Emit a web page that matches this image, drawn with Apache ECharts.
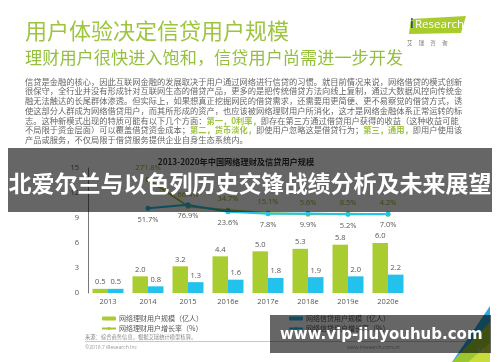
<!DOCTYPE html>
<html><head><meta charset="utf-8">
<script src="https://cdn.jsdelivr.net/npm/echarts@6/dist/echarts.min.js"></script>
<style>html,body{margin:0;padding:0;background:#fff}#c{width:500px;height:362px}</style>
</head><body><div id="c"></div>
<script>
const categories = ['2013','2014','2015','2016e','2017e','2018e','2019e','2020e'];
const wealthUsers = [0.5,2.0,3.2,4.4,5.0,5.3,5.8,6.0];
const loanUsers = [0.5,0.8,1.3,1.6,1.8,1.9,2.0,2.2];
const wealthGrowth = [null,271.8,66.4,34.7,15.1,5.6,8.5,4.2];
const loanGrowth = [null,51.7,76.9,23.6,7.8,9.9,5.2,7.0];
const yTicks = [0,3,6,9,12,15];
const seriesNames = ['网络理财用户规模（亿人）','网络信贷用户规模（亿人）','网络理财用户增长率（%）','网络信贷用户增长率（%）'];
const chartTitle = '2013-2020年中国网络理财及信贷用户规模';
const slideTitle = '用户体验决定信贷用户规模';
const slideSubtitle = '理财用户很快进入饱和，信贷用户尚需进一步开发';
const paragraph = [
  '信贷是金融的核心，因此互联网金融的发展取决于用户通过网络进行信贷的习惯。就目前情况来说，网络借贷的模式创新',
  '很保守，全行业并没有形成针对互联网生态的借贷产品，更多的是把传统借贷方法向线上复制，通过大数据风控向传统金',
  '融无法触达的长尾群体渗透。但实际上，如果想真正挖掘网民的借贷需求，还需要用更简便、更不易察觉的借贷方式，诱',
  '使这部分人群成为网络借贷用户，而其所形成的资产，也应该被网络理财用户所消化，这才是网络金融体系正常运转的标',
  '志。这种新模式出现的特质可能有以下几个方面：{g|第一，0利率，}即存在第三方通过借贷用户获得的收益（这种收益可能',
  '不局限于资金层面）可以覆盖借贷资金成本；{g|第二，货币淡化，}即使用户忽略这是借贷行为；{g|第三，通用，}即用户使用该',
  '产品或服务，不仅局限于借贷服务提供企业自身生态系统内。'
];
const overlayTitle = '北爱尔兰与以色列历史交锋战绩分析及未来展望';
const overlayUrl = 'www.vip-jiuyouhub.com';
const sourceText = '来源：综合商务信息，根据艾瑞统计模型核算。';
const copyrightText = '©2016.7 iResearch Inc';
const siteText = 'www.iresearch.com.cn';
const pageNo = '11';

const GREEN = '#a9cc30', CYAN = '#22c2ec';
const CJK = '"Noto Sans CJK SC", sans-serif';
const NUM = '"Open Sans", "Noto Sans CJK SC", sans-serif';

const chart = echarts.init(document.getElementById('c'), null, {renderer: 'canvas'});

const graphics = [];
graphics.push({type:'text', left:25, top:20, z:50, style:{text:slideTitle, font:'22px '+CJK, fill:'#9dc53e'}});
graphics.push({type:'text', left:25, top:49, z:50, style:{text:slideSubtitle, font:'17.2px '+CJK, fill:'#94c03e'}});
// logo
graphics.push({type:'polygon', z:50, shape:{points:[[411,19],[466,16],[461,33],[409,34]]}, style:{fill:'#a8cc2c'}});
graphics.push({type:'text', x:410, y:19, z:51, style:{text:'i', font:'bold 12px '+NUM, fill:'#1d4f91'}});
graphics.push({type:'text', x:415, y:19, z:51, style:{text:'Research', font:'11.5px '+NUM, fill:'#ffffff'}});
graphics.push({type:'text', x:407, y:40, z:51, style:{text:'艾     瑞     咨     询', font:'5.5px '+CJK, fill:'#777'}});
paragraph.forEach((ln,i)=>{
  graphics.push({type:'text', x:25, y:77.5+i*9.7, z:50, style:{text:ln, font:'8.25px '+CJK, fill:'#666', rich:{g:{fill:'#9dc53e', fontWeight:'bold', fontSize:8.25, fontFamily:CJK}}}});
});
graphics.push({type:'text', x:236, y:162, z:50, style:{text:chartTitle, font:'bold 8.2px '+CJK, fill:'#333', align:'center', verticalAlign:'middle'}});
graphics.push({type:'text', x:85, y:334.5, z:50, style:{text:sourceText, font:'5.3px '+CJK, fill:'#888'}});
graphics.push({type:'line', z:50, shape:{x1:85,y1:341.5,x2:470,y2:341.5}, style:{stroke:'#c8c8c8', lineWidth:1}});
graphics.push({type:'text', x:85, y:345, z:50, style:{text:copyrightText, font:'5px '+NUM, fill:'#999'}});
graphics.push({type:'text', x:347, y:345, z:50, style:{text:siteText, font:'5px '+NUM, fill:'#999'}});
// corner decoration
graphics.push({type:'polygon', z:50, shape:{points:[[490,306],[490,362],[452,362]]}, style:{fill:'#2aa9dd'}});
graphics.push({type:'polygon', z:51, shape:{points:[[490,322],[490,362],[452,362]]}, style:{fill:'#9cc52e'}});
graphics.push({type:'polygon', z:52, shape:{points:[[490,343],[490,362],[468,362]]}, style:{fill:'#c8dc3c'}});
graphics.push({type:'text', x:477, y:347, z:53, style:{text:pageNo, font:'6px '+NUM, fill:'#ddd'}});
// overlays
graphics.push({type:'rect', z:100, shape:{x:8,y:148,width:484,height:64}, style:{fill:'rgba(0,0,0,0.6)'}});
graphics.push({type:'text', x:250, y:183, z:101, style:{text:overlayTitle, font:'bold 23px '+CJK, fill:'#fff', align:'center', verticalAlign:'middle'}});
graphics.push({type:'rect', z:100, shape:{x:270,y:315,width:221,height:38}, style:{fill:'rgba(0,0,0,0.6)'}});
graphics.push({type:'text', x:280, y:335, z:101, style:{text:overlayUrl, font:'bold 15px "DejaVu Sans", sans-serif', fill:'#fff', verticalAlign:'middle'}});

const fmt1 = p => Number(p.value).toFixed(1);
const fmtPct = p => Number(p.value).toFixed(1) + '%';

chart.setOption({
  animation:false,
  backgroundColor:'#fff',
  grid:{left:88, right:92, top:168, bottom:69},
  legend:[
    {left:96, top:309.5, orient:'vertical', itemGap:2, itemWidth:14, itemHeight:4, data:[seriesNames[0], seriesNames[2]],
     textStyle:{fontSize:7, color:'#555', fontFamily:CJK, lineHeight:8, padding:[0,0,0,-2]}},
    {left:283, top:309.5, orient:'vertical', itemGap:2, itemWidth:14, itemHeight:4, data:[seriesNames[1], seriesNames[3]],
     textStyle:{fontSize:7, color:'#555', fontFamily:CJK, lineHeight:8, padding:[0,0,0,-2]}}
  ],
  xAxis:{type:'category', data:categories, axisLine:{show:false}, axisTick:{show:false},
    axisLabel:{fontSize:7.5, color:'#555', fontFamily:NUM, margin:5}},
  yAxis:[
    {type:'value', min:yTicks[0], max:yTicks[yTicks.length-1], interval:yTicks[1]-yTicks[0],
     axisLine:{show:true, lineStyle:{color:'#777', width:1}}, axisTick:{show:false}, splitLine:{show:false},
     axisLabel:{fontSize:7.5, color:'#555', fontFamily:NUM, margin:9}},
    {type:'value', min:-600, max:360, show:false, splitLine:{show:false}}
  ],
  series:[
    {name:seriesNames[0], type:'bar', data:wealthUsers, barWidth:15.5, barGap:'0%', itemStyle:{color:GREEN},
     label:{show:true, position:'top', distance:3, fontSize:7.5, color:'#555', fontFamily:NUM, formatter:fmt1}},
    {name:seriesNames[1], type:'bar', data:loanUsers, barWidth:15.5, barGap:'0%', itemStyle:{color:CYAN},
     label:{show:true, position:'top', distance:3, fontSize:7.5, color:'#555', fontFamily:NUM, formatter:fmt1}},
    {name:seriesNames[2], type:'line', yAxisIndex:1, data:wealthGrowth, symbol:'circle', symbolSize:5,
     itemStyle:{color:'#a3c62e'}, lineStyle:{color:'#a3c62e', width:2},
     label:{show:true, position:'top', distance:5, fontSize:7.5, color:'#8fae2a', fontFamily:NUM, formatter:fmtPct}},
    {name:seriesNames[3], type:'line', yAxisIndex:1, data:loanGrowth, symbol:'circle', symbolSize:5,
     itemStyle:{color:CYAN}, lineStyle:{color:CYAN, width:2},
     label:{show:true, position:'bottom', distance:5, fontSize:7.5, color:'#555', fontFamily:NUM, formatter:fmtPct}}
  ],
  graphic:graphics
});
</script></body></html>
